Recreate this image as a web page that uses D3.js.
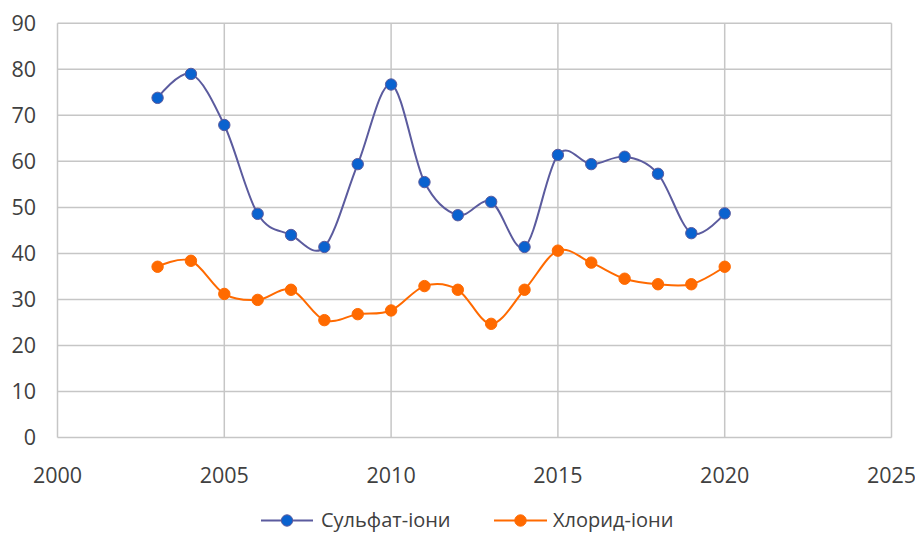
<!DOCTYPE html>
<html><head><meta charset="utf-8">
<script src="https://cdn.jsdelivr.net/npm/d3@7"></script>
<style>body{margin:0;background:#fff;} svg{display:block;font-family:"Open Sans",sans-serif;}</style>
</head><body>
<svg id="chart" width="915" height="533"></svg>
<script>
const years = [2003,2004,2005,2006,2007,2008,2009,2010,2011,2012,2013,2014,2015,2016,2017,2018,2019,2020];
const sulfate = [73.8,79.0,67.9,48.6,44.0,41.4,59.4,76.7,55.5,48.3,51.2,41.4,61.4,59.4,61.0,57.3,44.4,48.7];
const chloride = [37.1,38.4,31.2,29.9,32.1,25.5,26.8,27.6,32.9,32.1,24.7,32.1,40.6,38.0,34.5,33.3,33.3,37.1];
const seriesNames = ["Сульфат-іони","Хлорид-іони"];
const xTicks = [2000,2005,2010,2015,2020,2025];
const yTicks = [0,10,20,30,40,50,60,70,80,90];

const svg = d3.select("#chart");
const L=57.5, R=891.5, T=23.3, B=437.5;
const x = d3.scaleLinear().domain([2000,2025]).range([L,R]);
const y = d3.scaleLinear().domain([0,90]).range([B,T]);
const grid="#c6c6c6", txt="#404040";

const g = svg.append("g");
g.selectAll(".hg").data(yTicks).join("line")
  .attr("x1",L).attr("x2",R).attr("y1",d=>y(d)).attr("y2",d=>y(d))
  .attr("stroke",grid).attr("stroke-width",1.5);
g.selectAll(".vg").data(xTicks).join("line")
  .attr("y1",T).attr("y2",B).attr("x1",d=>x(d)).attr("x2",d=>x(d))
  .attr("stroke",grid).attr("stroke-width",1.5);

g.selectAll(".yl").data(yTicks).join("text")
  .attr("x",36).attr("y",d=>y(d)).attr("dy","0.36em").attr("text-anchor","end")
  .attr("fill",txt).attr("font-size",21.5).text(d=>d);
g.selectAll(".xl").data(xTicks).join("text")
  .attr("x",d=>x(d)).attr("y",475).attr("dy","0.36em").attr("text-anchor","middle")
  .attr("fill",txt).attr("font-size",21.5).text(d=>d);

const series = [
  {name:seriesNames[0], vals:sulfate, line:"#5b5b9e", fill:"#0a62cf", stroke:"#5b5b9e"},
  {name:seriesNames[1], vals:chloride, line:"#ff6a00", fill:"#ff6a00", stroke:"#ff6a00"}
];
const lineGen = d3.line().x(d=>x(d[0])).y(d=>y(d[1])).curve(d3.curveCardinal.tension(0));
series.forEach(s=>{
  const pts = years.map((yr,i)=>[yr,s.vals[i]]);
  svg.append("path").datum(pts).attr("d",lineGen).attr("fill","none")
    .attr("stroke",s.line).attr("stroke-width",2);
  svg.append("g").selectAll("circle").data(pts).join("circle")
    .attr("cx",d=>x(d[0])).attr("cy",d=>y(d[1])).attr("r",5.7)
    .attr("fill",s.fill).attr("stroke",s.stroke).attr("stroke-width",1);
});

// legend
const leg = [{x0:261,x1:313,tx:321},{x0:494,x1:547,tx:553}];
series.forEach((s,i)=>{
  const ly=520.5, l=leg[i];
  svg.append("line").attr("x1",l.x0).attr("x2",l.x1).attr("y1",ly).attr("y2",ly)
    .attr("stroke",s.line).attr("stroke-width",2);
  svg.append("circle").attr("cx",(l.x0+l.x1)/2).attr("cy",ly).attr("r",5.7)
    .attr("fill",s.fill).attr("stroke",s.stroke).attr("stroke-width",1);
  svg.append("text").attr("x",l.tx).attr("y",ly).attr("dy","0.33em")
    .attr("fill",txt).attr("font-size",20).text(s.name);
});
</script>
</body></html>
